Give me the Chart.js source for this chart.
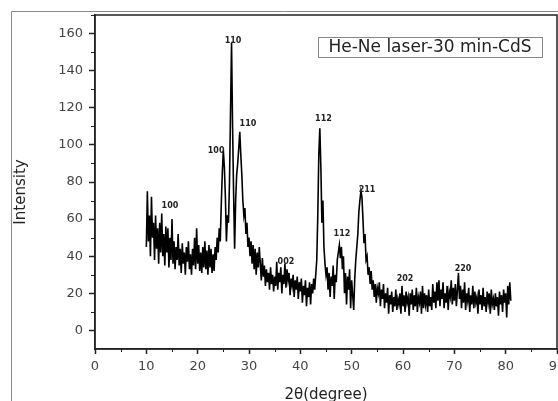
<!DOCTYPE html>
<html>
<head>
<meta charset="utf-8">
<script src="https://cdn.jsdelivr.net/npm/chart.js@4.4.0/dist/chart.umd.min.js"></script>
<style>
html,body{margin:0;padding:0;background:#fff;}
canvas{display:block;}
</style>
</head>
<body>
<canvas id="myChart" width="558" height="401"></canvas>
<script>
// XRD scan, 2theta from 10 to 81 deg, one reading every 0.2 deg
const startAngle = 10;
const angleStep = 0.2;
const intensity = [
  45,75,48,62,40,72,50,58,38,62,   // 10.0
  44,55,36,58,42,63,40,52,35,56,   // 12.0
  42,55,34,50,38,60,36,48,33,45,   // 14.0
  38,52,35,44,31,47,36,42,30,45,   // 16.0
  37,48,33,41,30,44,35,50,33,55,   // 18.0
  36,46,32,42,31,45,34,48,33,43,   // 20.0
  30,46,34,44,31,41,32,45,38,50,   // 22.0
  42,55,48,68,85,97,88,72,48,62,   // 24.0
  58,80,118,155,110,74,44,70,84,90, // 26.0
  98,107,95,84,70,62,66,52,58,45,  // 28.0
  50,40,48,36,46,33,44,30,42,34,   // 30.0
  45,36,27,39,29,35,24,33,26,31,   // 32.0
  22,34,25,30,21,29,24,37,22,31,   // 34.0
  26,34,20,30,25,36,23,33,27,31,   // 36.0
  19,28,24,30,18,27,22,29,17,26,   // 38.0
  21,28,15,24,19,27,13,23,18,26,   // 40.0
  14,25,20,28,22,30,38,62,95,109,  // 42.0
  88,58,70,45,36,30,34,22,31,18,   // 44.0
  29,24,35,17,30,26,38,42,46,39,   // 46.0
  45,33,40,20,31,14,29,22,33,12,   // 48.0
  27,19,11,28,38,45,52,64,70,75,   // 50.0
  72,60,47,52,38,40,30,34,25,32,   // 52.0
  22,27,18,25,15,23,20,26,13,22,   // 54.0
  17,25,12,20,15,23,9,19,14,21,    // 56.0
  10,18,13,22,11,17,14,20,9,24,    // 58.0
  13,19,10,21,15,18,8,20,14,22,    // 60.0
  11,19,13,23,10,18,15,21,9,24,    // 62.0
  12,20,14,19,10,22,13,18,11,25,   // 64.0
  15,21,12,26,16,27,13,22,17,26,   // 66.0
  12,20,15,24,11,21,18,27,14,23,   // 68.0
  16,25,13,22,31,17,24,12,22,15,   // 70.0
  26,11,20,16,23,10,19,14,24,12,   // 72.0
  21,15,18,9,22,14,19,11,23,13,    // 74.0
  18,10,21,15,20,9,22,14,17,11,    // 76.0
  20,13,18,8,21,14,19,10,22,15,    // 78.0
  20,7,24,14,26,16                 // 80.0
];

const xTicks = [0,10,20,30,40,50,60,70,80,90];
const xMinorTicks = [5,15,25,35,45,55,65,75,85];
const yTicks = [0,20,40,60,80,100,120,140,160];
const yMinorTicks = [10,30,50,70,90,110,130,150,170];

// hkl labels over the peaks
const peakLabels = ['100','100','110','110','002','112','112','211','202','220'];
const peakAngles = [14.6,23.6,26.9,29.8,37.2,44.5,48.1,53.0,60.4,71.7];
const peakHeights = [67,97,156,111.5,37,114,52,76,28,33];

const legendText = 'He-Ne laser-30 min-CdS';

const points = intensity.map((v,i)=>({x:+(startAngle+i*angleStep).toFixed(1), y:v}));

const font = '"DejaVu Sans", sans-serif';

const decor = {
  id:'decor',
  beforeDraw(chart){
    const ctx = chart.ctx;
    ctx.save();
    ctx.fillStyle = '#fff';
    ctx.fillRect(0,0,chart.width,chart.height);
    // outer page frame
    ctx.strokeStyle = '#8a8a8a';
    ctx.lineWidth = 1;
    ctx.beginPath();
    ctx.moveTo(11.5,chart.height);
    ctx.lineTo(11.5,11.5);
    ctx.lineTo(chart.width,11.5);
    ctx.stroke();
    ctx.restore();
  },
  afterDraw(chart){
    const {ctx, chartArea:a, scales:{x,y}} = chart;
    ctx.save();
    ctx.strokeStyle = '#222';
    ctx.lineWidth = 1.5;
    ctx.strokeRect(a.left,a.top,a.right-a.left,a.bottom-a.top);

    // minor ticks
    ctx.lineWidth = 1;
    ctx.beginPath();
    xMinorTicks.forEach(v=>{
      const px = Math.round(x.getPixelForValue(v))+0.5;
      ctx.moveTo(px,a.bottom); ctx.lineTo(px,a.bottom+3);
    });
    yMinorTicks.forEach(v=>{
      const py = Math.round(y.getPixelForValue(v))+0.5;
      ctx.moveTo(a.left,py); ctx.lineTo(a.left-4,py);
    });
    ctx.stroke();

    ctx.fillStyle = '#222';
    ctx.font = 'bold 8px '+font;
    ctx.textAlign = 'center';
    ctx.textBaseline = 'middle';
    peakLabels.forEach((t,i)=>{
      ctx.fillText(t, x.getPixelForValue(peakAngles[i]), y.getPixelForValue(peakHeights[i]));
    });

    // legend box
    const bx = a.right-239, by = a.top+22, bw = 224, bh = 20;
    ctx.strokeStyle = '#888';
    ctx.lineWidth = 1;
    ctx.strokeRect(bx+0.5,by+0.5,bw,bh);
    ctx.font = '17px '+font;
    ctx.fillStyle = '#222';
    ctx.fillText(legendText, bx+bw/2, by+bh/2+1);

    // y title, sits a little below the axis middle
    ctx.save();
    ctx.translate(21, 192);
    ctx.rotate(-Math.PI/2);
    ctx.font = '15px '+font;
    ctx.fillText('Intensity', 0, 0);
    ctx.restore();
    ctx.restore();
  }
};

const ctx = document.getElementById('myChart').getContext('2d');
const myChart = new Chart(ctx, {
  type:'line',
  data:{
    datasets:[{
      data:points,
      borderColor:'#000',
      borderWidth:1.6,
      pointRadius:0,
      tension:0,
      fill:false
    }]
  },
  options:{
    responsive:false,
    animation:false,
    layout:{padding:{top:15,right:1,left:0,bottom:0}},
    plugins:{legend:{display:false},tooltip:{enabled:false}},
    scales:{
      x:{
        type:'linear', min:0, max:90,
        afterBuildTicks:s=>{ s.ticks = xTicks.map(v=>({value:v})); },
        afterFit:s=>{ s.height = 52; s.paddingLeft = 0; s.paddingRight = 0; },
        grid:{drawOnChartArea:false, drawTicks:true, tickLength:5, tickColor:'#222', tickWidth:1.5},
        border:{display:true, color:'#222', width:1.5},
        ticks:{padding:5, color:'#444', font:{family:font, size:13}, maxRotation:0, autoSkip:false},
        title:{display:true, text:'2θ(degree)', color:'#222', font:{family:font, size:15}, padding:{top:0,bottom:-3}}
      },
      y:{
        type:'linear', min:-10, max:170,
        afterBuildTicks:s=>{ s.ticks = yTicks.map(v=>({value:v})); },
        afterFit:s=>{ s.width = 95; },
        grid:{drawOnChartArea:false, drawTicks:true, tickLength:6, tickColor:'#222', tickWidth:1.5},
        border:{display:true, color:'#222', width:1.5},
        ticks:{padding:6, color:'#444', font:{family:font, size:13}, autoSkip:false}
      }
    }
  },
  plugins:[decor]
});
</script>
</body>
</html>
